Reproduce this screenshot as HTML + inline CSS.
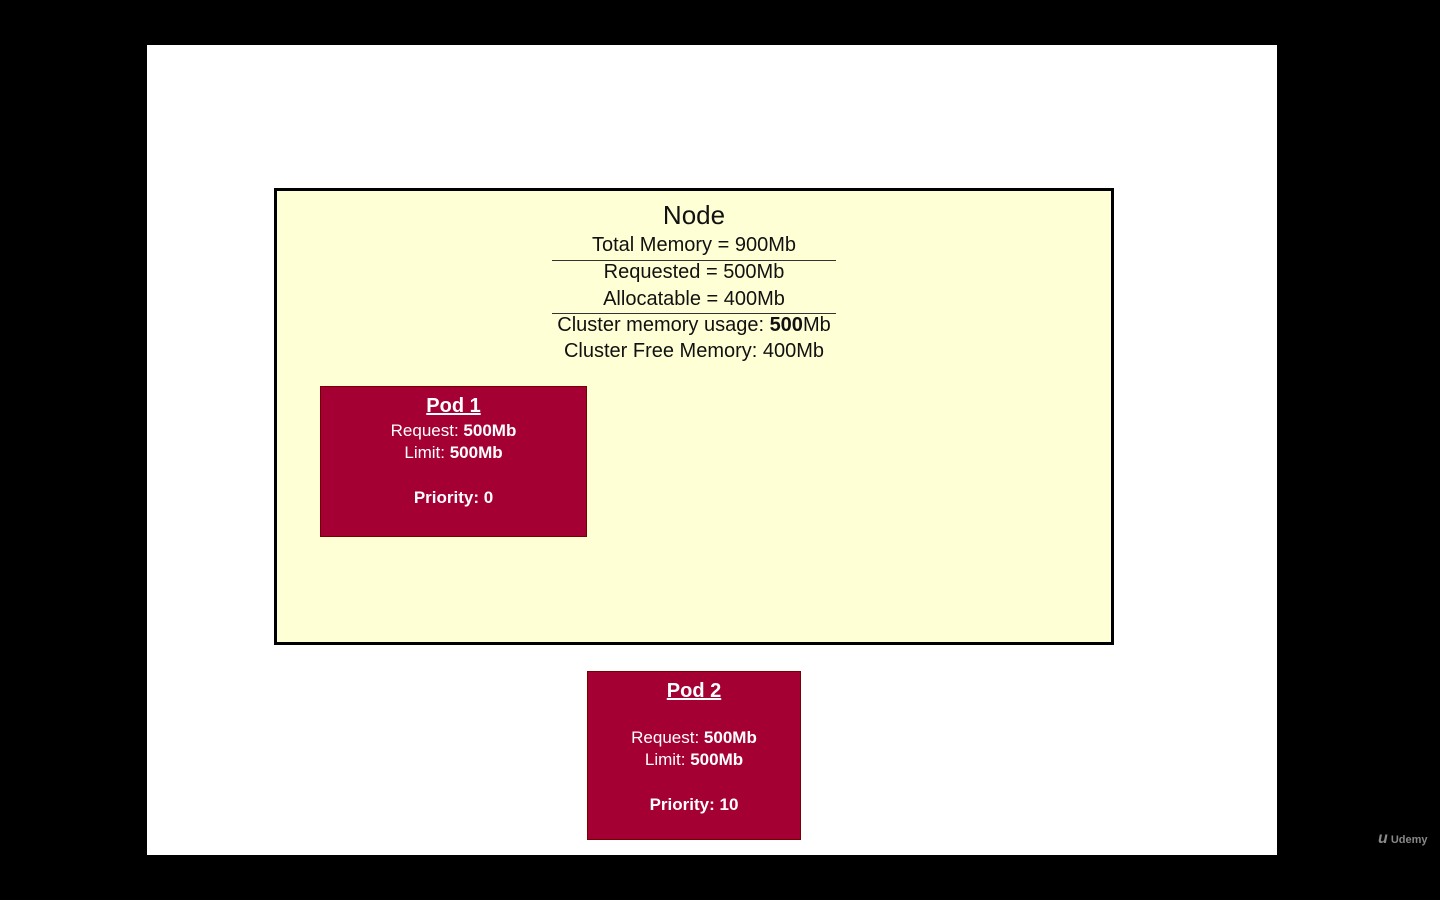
<!DOCTYPE html>
<html><head><meta charset="utf-8"><style>
body{margin:0;width:1440px;height:900px;background:#000;position:relative;overflow:hidden;font-family:"Liberation Sans",sans-serif}
.slide{position:absolute;left:147px;top:45px;width:1130px;height:810px;background:#fff}
.node{position:absolute;left:274px;top:188px;width:834px;height:451px;border:3px solid #000;background:#ffffd5}
.t{position:absolute;left:274px;width:840px;text-align:center;color:#111;font-size:20px;white-space:nowrap}
.hr{position:absolute;left:552px;width:284px;height:1px;background:#333}
.pod{position:absolute;background:#a50034;color:#fff;border:1px solid #700;text-align:center;font-size:17px}
.pod div{position:absolute;left:0;width:100%;white-space:nowrap}
b{font-weight:bold}
</style></head><body>
<div class="slide"></div>
<div class="node"></div>
<div class="t" style="top:200px;font-size:26px">Node</div>
<div class="t" style="top:234px">Total Memory = 900Mb</div>
<div class="hr" style="top:260px"></div>
<div class="t" style="top:261px">Requested = 500Mb</div>
<div class="t" style="top:288px">Allocatable = 400Mb</div>
<div class="hr" style="top:313px"></div>
<div class="t" style="top:314px">Cluster memory usage: <b>500</b>Mb</div>
<div class="t" style="top:340px">Cluster Free Memory: 400Mb</div>
<div class="pod" style="left:320px;top:386px;width:265px;height:149px">
<div style="top:8px;font-size:20px;font-weight:bold;text-decoration:underline">Pod 1</div>
<div style="top:34px">Request: <b>500Mb</b></div>
<div style="top:56px">Limit: <b>500Mb</b></div>
<div style="top:101px"><b>Priority: 0</b></div>
</div>
<div class="pod" style="left:587px;top:671px;width:212px;height:167px">
<div style="top:8px;font-size:20px;font-weight:bold;text-decoration:underline">Pod 2</div>
<div style="top:56px">Request: <b>500Mb</b></div>
<div style="top:78px">Limit: <b>500Mb</b></div>
<div style="top:123px"><b>Priority: 10</b></div>
</div>
<div style="position:absolute;left:1378px;top:830px;color:#888;font-size:11px;font-weight:bold"><span style="font-size:16px;font-style:italic">u</span> Udemy</div>
</body></html>
